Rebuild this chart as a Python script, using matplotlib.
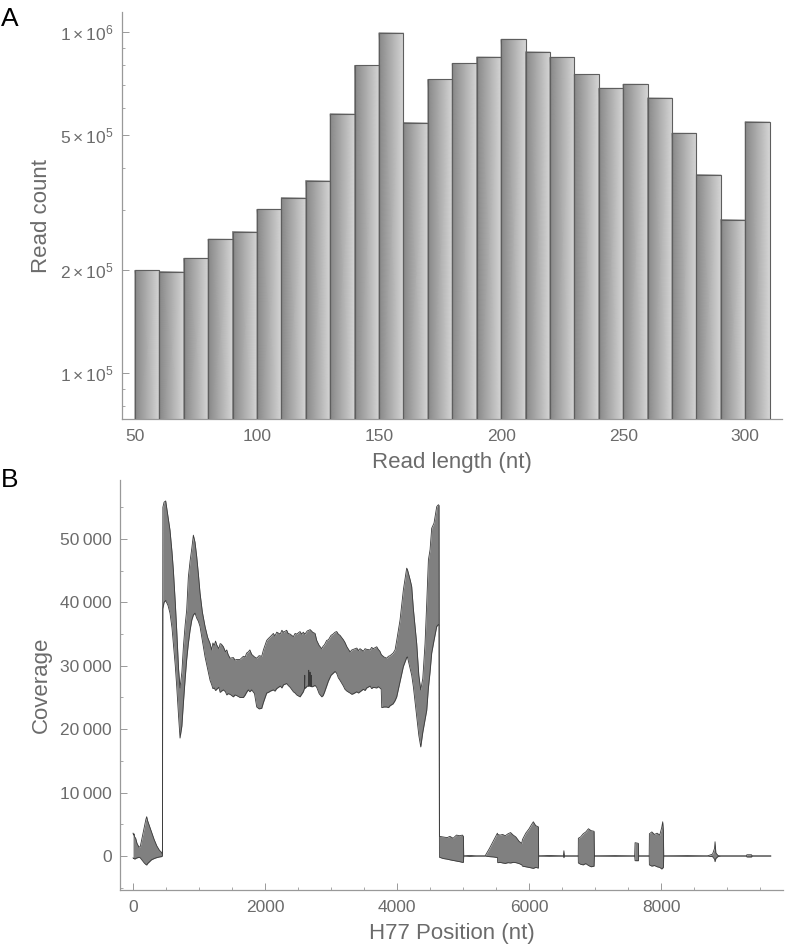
import matplotlib
matplotlib.use("Agg")
import matplotlib.pyplot as plt
import numpy as np
from matplotlib.colors import LinearSegmentedColormap
from matplotlib.ticker import FixedLocator, MultipleLocator

plt.rcParams['font.family'] = ['Liberation Sans', 'DejaVu Sans']
plt.rcParams['mathtext.fontset'] = 'custom'
plt.rcParams['mathtext.rm'] = 'Liberation Sans'
plt.rcParams['mathtext.it'] = 'Liberation Sans:italic'

# ---- panel A: read length histogram (bins of 10 nt) ----
bin_left = [50, 60, 70, 80, 90, 100, 110, 120, 130, 140, 150, 160, 170,
            180, 190, 200, 210, 220, 230, 240, 250, 260, 270, 280, 290, 300]
read_count = [200000, 198500, 217000, 247000, 260000, 302000, 327000, 367000,
              576000, 798000, 995000, 543000, 726000, 809000, 845000, 952000,
              875000, 843000, 751000, 684000, 703000, 641000, 505000, 382000,
              282000, 546000]
bin_width = 10
a_ticks = [50, 100, 150, 200, 250, 300]
a_yticks = [1e5, 2e5, 5e5, 1e6]
a_ylabels = [r'$\mathregular{1\times10^{5}}$', r'$\mathregular{2\times10^{5}}$',
             r'$\mathregular{5\times10^{5}}$', r'$\mathregular{1\times10^{6}}$']

# ---- panel B: coverage band (lower / upper envelope) ----
cov_x = [0, 8, 15, 25, 40, 60, 90, 110, 140, 170, 195, 207, 220, 250, 280, 320, 360, 400, 430, 445,
         452, 470, 495, 530, 560, 590, 611, 640, 662, 690, 712, 740, 763, 790, 813, 838, 864, 890,
         914, 939, 965, 990, 1015, 1050, 1091, 1130, 1167, 1192, 1210, 1230, 1250, 1268, 1300, 1320,
         1340, 1369, 1400, 1420, 1440, 1470, 1520, 1545, 1570, 1621, 1672, 1700, 1720, 1747, 1770,
         1798, 1840, 1874, 1910, 1950, 1975, 2025, 2050, 2080, 2126, 2150, 2177, 2230, 2255, 2280,
         2328, 2350, 2380, 2429, 2455, 2480, 2530, 2555, 2580, 2600, 2602, 2604, 2640, 2660, 2662,
         2664, 2680, 2682, 2684, 2700, 2702, 2704, 2720, 2758, 2783, 2820, 2859, 2880, 2900, 2934,
         2960, 3000, 3030, 3061, 3086, 3110, 3136, 3187, 3210, 3240, 3288, 3315, 3340, 3390, 3415,
         3439, 3490, 3515, 3540, 3591, 3615, 3640, 3692, 3715, 3740, 3760, 3768, 3800, 3843, 3870,
         3894, 3940, 3970, 3995, 4045, 4096, 4146, 4157, 4200, 4222, 4247, 4298, 4330, 4359, 4390,
         4424, 4450, 4475, 4500, 4525, 4560, 4601, 4626, 4636,
         4642, 4700, 4760, 4800, 4850, 4900, 4950, 4990, 5005, 5010,
         5100, 5200, 5333, 5400, 5460, 5520, 5525, 5560, 5600, 5640, 5680, 5720, 5760, 5800, 5850,
         5890, 5900, 5950, 6000, 6040, 6065, 6100, 6141, 6145,
         6300, 6520, 6528, 6535, 6700, 6745, 6747, 6780, 6820, 6860, 6900, 6940, 6985, 6990,
         7300, 7600, 7606, 7656, 7660, 7820, 7823, 7860, 7900, 7940, 7980, 8010, 8025, 8035, 8040,
         8400, 8700, 8780, 8810, 8818, 8830, 8860, 8900, 9290, 9300, 9370, 9380, 9662]
cov_hi = [3600, 3300, 3500, 3000, 2800, 2000, 1400, 1500, 3000, 4500, 5800, 6200, 5600, 4700, 3800,
          2600, 1600, 900, 600, 300,
          55000, 55800, 56000, 53500, 51400, 48000, 45100, 40000, 35600, 29500, 26500, 29000, 33000,
          36500, 38800, 44000, 46500, 48500, 50600, 49500, 47200, 44500, 41500, 38500, 36200, 34500,
          33500, 32500, 33600, 33200, 33900, 33300, 32700, 33500, 33400, 33000, 32200, 32500, 31800,
          31200, 31300, 30900, 31000, 31000, 31500, 31400, 32000, 32200, 32500, 31800, 31400, 31200,
          31600, 31500, 32500, 34000, 34300, 34600, 35100, 34700, 35300, 35000, 35600, 35300, 35600,
          35100, 35000, 34600, 35100, 35000, 35400, 35000, 35300, 35000, 35000, 35000, 35500, 35600,
          35600, 35600, 35700, 35700, 35700, 35500, 35500, 35500, 35300, 35100, 34000, 33200, 32700,
          33100, 33300, 34000, 34100, 34800, 35000, 35300, 35400, 35000, 34800, 34100, 33700, 33000,
          32200, 32500, 32600, 32800, 32400, 32700, 32300, 32700, 32600, 32500, 32900, 32700, 33000,
          32600, 32300, 31800, 31700, 31400, 31200, 31500, 31600, 32000, 32500, 34000, 37200, 42000,
          45400, 45200, 43500, 42500, 39000, 33500, 28500, 26200, 28000, 33500, 40000, 46700, 48300,
          51700, 52500, 55100, 55400, 55300,
          3100, 3000, 2900, 3100, 2800, 3300, 3200, 3300, 3100, 0,
          100, 0, 0, 1200, 2400, 3600, 3400, 3300, 3400, 3200, 3500, 3700, 3300, 3000, 2300,
          2000, 2600, 3600, 4300, 5000, 5400, 4800, 4600, 0,
          80, 0, 830, 0, 0, 0, 2800, 3000, 3500, 3800, 4300, 4000, 3900, 0,
          60, 0, 2100, 2000, 0, 0, 3500, 3800, 3400, 3600, 3300, 4500, 5400, 4000, 0,
          60, 0, 300, 1200, 2250, 500, 100, 0, 0, 200, 200, 0, 0]
cov_lo = [-300, -400, -350, -500, -400, -300, -200, -300, -700, -1100, -1350, -1420, -1200, -900, -600,
          -400, -250, -150, -100, 0,
          39000, 40000, 40300, 39500, 38300, 36000, 33500, 30000, 26700, 22000, 18600, 20500, 24100,
          28000, 31000, 33500, 35600, 37200, 38000, 38300, 37500, 37000, 36200, 34000, 31400, 29500,
          27700, 27000, 26400, 26500, 26100, 26300, 26600, 25800, 26000, 26200, 25900, 25400, 25600,
          25500, 25100, 25400, 25300, 25000, 25000, 25400, 25800, 26200, 25900, 26200, 25600, 23500,
          23200, 23300, 24200, 25700, 25800, 26000, 26200, 26000, 26400, 26800, 26500, 27000, 27200,
          26900, 26600, 25900, 25700, 25400, 25100, 25500, 25900, 26500, 28500, 26400, 26800, 26800,
          29300, 26800, 26800, 29000, 26800, 26700, 28500, 26700, 26700, 26900, 26600, 25600, 25100,
          25300, 25800, 26800, 27600, 28500, 28800, 29100, 28800, 28100, 27700, 26800, 26300, 26000,
          25700, 25500, 25600, 25900, 25700, 25900, 26300, 26100, 26500, 26800, 26400, 26600, 26500,
          26700, 26500, 26300, 23400, 23500, 23500, 23400, 23700, 24000, 24500, 25100, 27500, 29900,
          31300, 31400, 29500, 28500, 26700, 22000, 19000, 17200, 19500, 21500, 23000, 26500, 29000,
          32000, 34000, 36200, 36500, 36400,
          -200, -400, -500, -600, -700, -800, -900, -1000, -1000, 0,
          -50, 0, 0, -100, -150, -250, -1050, -1000, -1100, -1170, -1050, -1100, -1000, -1050, -1200,
          -1400, -1600, -1700, -1800, -1900, -1950, -1800, -1900, 0,
          -30, 0, -270, 0, 0, 0, -1100, -1300, -1400, -1200, -1500, -1700, -1600, 0,
          -30, 0, -740, -740, 0, 0, -1400, -1600, -1500, -1700, -1800, -2050, -1900, -1800, 0,
          -30, 0, -100, -500, -900, -400, -100, 0, 0, -150, -150, 0, 0]
b_yticks = [0, 10000, 20000, 30000, 40000, 50000]
b_ylabels = ['0', '10\u2009000', '20\u2009000', '30\u2009000', '40\u2009000', '50\u2009000']
b_xticks = [0, 2000, 4000, 6000, 8000]

label_col = '#6b6b6b'
axis_col = '#999999'

fig = plt.figure(figsize=(7.85, 9.46), dpi=100)
axA = fig.add_axes([0.1554, 0.557, 0.8406, 0.4303])
axB = fig.add_axes([0.1529, 0.0592, 0.8446, 0.4334])

for ax in (axA, axB):
    for s in ('top', 'right'):
        ax.spines[s].set_visible(False)
    for s in ('left', 'bottom'):
        ax.spines[s].set_color(axis_col)
        ax.spines[s].set_linewidth(0.9)
    ax.tick_params(which='major', direction='in', length=5, width=0.7, color=axis_col,
                   labelcolor=label_col, labelsize=12.5)
    ax.tick_params(which='minor', direction='in', length=2.5, width=0.6, color=axis_col)
    ax.tick_params(axis='x', pad=7)
    ax.tick_params(axis='y', pad=6)

# --- A ---
axA.set_yscale('log')
axA.set_xlim(44.7, 315)
axA.set_ylim(73300, 1.145e6)
grad = LinearSegmentedColormap.from_list('bargrad', ['#868686', '#d6d6d6'])
ybot = 7e4
for left, h in zip(bin_left, read_count):
    X = np.array([[left, left + bin_width], [left, left + bin_width]])
    Y = np.array([[ybot, ybot], [h, h]])
    C = np.array([[0.0, 1.0], [0.0, 1.0]])
    axA.pcolormesh(X, Y, C, shading='gouraud', cmap=grad, vmin=0, vmax=1, zorder=2)
axA.bar(bin_left, np.array(read_count) - ybot, width=bin_width, align='edge', bottom=ybot,
        fill=False, edgecolor='#5e5e5e', linewidth=0.8, zorder=3)
axA.xaxis.set_major_locator(FixedLocator(a_ticks))
axA.xaxis.set_minor_locator(MultipleLocator(10))
axA.yaxis.set_major_locator(FixedLocator(a_yticks))
axA.yaxis.set_minor_locator(FixedLocator([8e4, 9e4, 3e5, 4e5, 6e5, 7e5, 8e5, 9e5]))
axA.yaxis.set_minor_formatter(plt.NullFormatter())
axA.set_yticklabels(a_ylabels)
axA.set_xlabel('Read length (nt)', fontsize=16, color=label_col, labelpad=6)
axA.set_ylabel('Read count', fontsize=16, color=label_col, labelpad=6)

# --- B ---
axB.set_xlim(-197, 9848)
axB.set_ylim(-5360, 59300)
axB.fill_between(cov_x, cov_lo, cov_hi, color='#808080', linewidth=0, zorder=2)
axB.plot(cov_x, cov_hi, color='#3a3a3a', linewidth=0.6, zorder=3)
axB.plot(cov_x, cov_lo, color='#3a3a3a', linewidth=0.6, zorder=3)
axB.xaxis.set_major_locator(FixedLocator(b_xticks))
axB.xaxis.set_minor_locator(MultipleLocator(500))
axB.yaxis.set_major_locator(FixedLocator(b_yticks))
axB.yaxis.set_minor_locator(MultipleLocator(5000))
axB.set_yticklabels(b_ylabels)
axB.set_xlabel('H77 Position (nt)', fontsize=16, color=label_col, labelpad=6)
axB.set_ylabel('Coverage', fontsize=16, color=label_col, labelpad=6)

fig.text(0.001, 0.993, 'A', fontsize=19, va='top', ha='left', color='black')
fig.text(0.001, 0.505, 'B', fontsize=19, va='top', ha='left', color='black')

fig.savefig('out.png', dpi=100)
